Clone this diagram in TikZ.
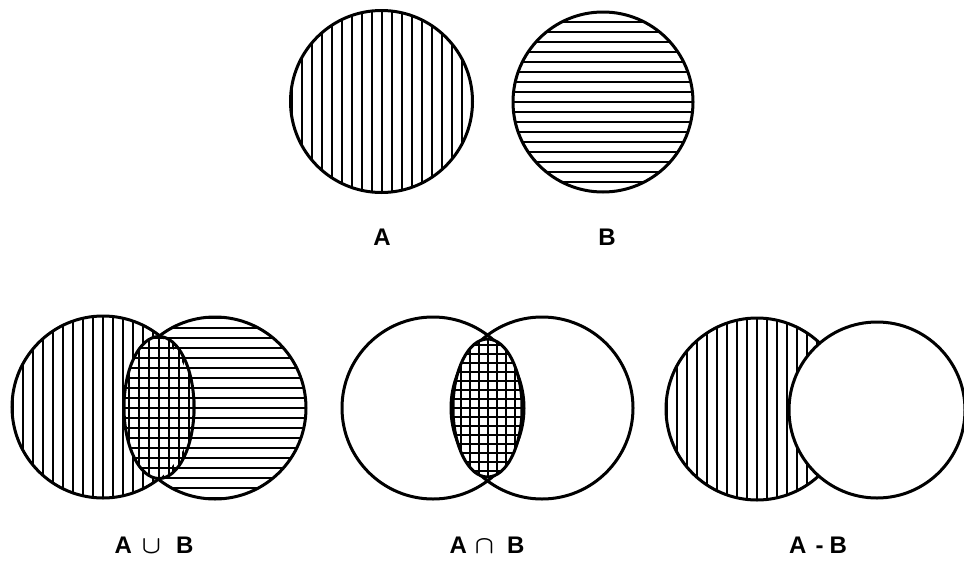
\documentclass[tikz,border=0pt]{standalone}
\usepackage{fontspec}
\setmainfont{Liberation Sans}
\begin{document}
\begin{tikzpicture}[x=1pt,y=-1pt,
  outline/.style={line width=3pt},
  hatch/.style={line width=2pt},
  lbl/.style={font=\fontsize{24}{28}\selectfont\bfseries\boldmath, inner sep=0pt, anchor=base}]
\useasboundingbox (0,0) rectangle (964,560);

% ---------- top: A ----------
\begin{scope}
  \clip (381.5,101.5) circle[radius=91pt];
  \foreach \k in {-9,...,9} \draw[hatch] ({382+\k*10},0) -- ++(0,210);
\end{scope}
\draw[outline] (381.5,101.5) circle[radius=91pt];

% ---------- top: B ----------
\begin{scope}
  \clip (603,102) circle[radius=90pt];
  \foreach \k in {-9,...,9} \draw[hatch] (500,{102+\k*10}) -- ++(210,0);
\end{scope}
\draw[outline] (603,102) circle[radius=90pt];

\node[lbl] (la) at (382,245) {A};
\node[lbl] (lb) at (607,245) {B};

% ---------- union ----------
\begin{scope}[even odd rule]
  \clip (103,407) circle[radius=91pt] (159,407.5) ellipse[x radius=35pt, y radius=71pt];
  \foreach \k in {-9,...,9} \draw[hatch] ({103+\k*10},300) -- ++(0,210);
\end{scope}
\begin{scope}[even odd rule]
  \clip (215,408) circle[radius=91pt] (159,407.5) ellipse[x radius=35pt, y radius=71pt];
  \foreach \k in {-9,...,9} \draw[hatch] (100,{408+\k*10}) -- ++(220,0);
\end{scope}
\begin{scope}
  \clip (159,407.5) ellipse[x radius=35pt, y radius=71pt];
  \foreach \k in {-4,...,4} \draw[hatch] ({159+\k*10},330) -- ++(0,160);
  \foreach \k in {-8,...,8} \draw[hatch] (120,{408+\k*10}) -- ++(80,0);
\end{scope}
\begin{scope}[even odd rule]
  \clip (0,300) rectangle (330,520) (159,407.5) ellipse[x radius=35pt, y radius=71pt];
  \draw[outline] (103,407) circle[radius=91pt];
  \draw[outline] (215,408) circle[radius=91pt];
\end{scope}
\draw[outline] (159,407.5) ellipse[x radius=35pt, y radius=71pt];
\node[lbl] (lu) at (154,553) {A\hspace{10pt}$\cup$\hspace{15pt}B};

% ---------- intersection ----------
\begin{scope}
  \clip (487.5,408) ellipse[x radius=34.5pt, y radius=69pt];
  \foreach \k in {-4,...,4} \draw[hatch] ({488+\k*9},330) -- ++(0,160);
  \foreach \k in {-8,...,8} \draw[hatch] (440,{408+\k*9}) -- ++(100,0);
\end{scope}
\begin{scope}[even odd rule]
  \clip (330,300) rectangle (650,520) (487.5,408) ellipse[x radius=34.5pt, y radius=69pt];
  \draw[outline] (433,408) circle[radius=91pt];
  \draw[outline] (542,408) circle[radius=91pt];
\end{scope}
\draw[outline] (487.5,408) ellipse[x radius=34.5pt, y radius=69pt];
\node[lbl] (li) at (487,553) {A\hspace{8pt}$\cap$\hspace{13pt}B};

% ---------- difference ----------
\begin{scope}
  \clip (757,409) circle[radius=91pt];
  \foreach \k in {-9,...,9} \draw[hatch] ({757+\k*10},300) -- ++(0,210);
\end{scope}
\draw[outline] (757,409) circle[radius=91pt];
\draw[outline, fill=white] (877,410) circle[radius=88pt];
\node[lbl] (ld) at (818,553) {A\hspace{9pt}-\hspace{6pt}B};
\end{tikzpicture}
\end{document}
